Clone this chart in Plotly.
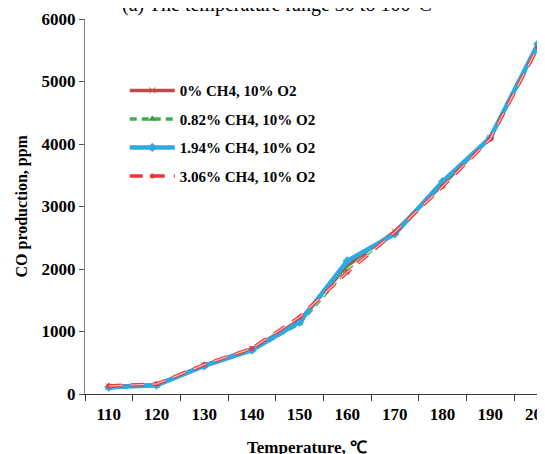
import plotly.graph_objects as go

temps = [110, 120, 130, 140, 150, 160, 170, 180, 190, 200]
co_0 = [120, 150, 460, 720, 1180, 2050, 2600, 3350, 4100, 5580]
co_082 = [100, 140, 450, 700, 1130, 2000, 2580, 3380, 4100, 5550]
co_194 = [110, 140, 450, 700, 1150, 2130, 2560, 3400, 4100, 5600]
co_306 = [130, 160, 470, 730, 1230, 1950, 2590, 3320, 4080, 5550]
names = ["0% CH4, 10% O2", "0.82% CH4, 10% O2", "1.94% CH4, 10% O2", "3.06% CH4, 10% O2"]
x_labels = ["110", "120", "130", "140", "150", "160", "170", "180", "190", "200"]
y_ticks = [0, 1000, 2000, 3000, 4000, 5000, 6000]

FONT = "Liberation Serif"
fig = go.Figure()
fig.add_trace(go.Scatter(x=temps, y=co_0, name=names[0], mode="lines+markers",
                         line=dict(color="#BE4B48", width=3.5),
                         marker=dict(symbol="x-thin", size=6, color="#BE4B48",
                                     line=dict(color="#BE4B48", width=1)),
                         legendgroup="a"))
fig.add_trace(go.Scatter(x=temps, y=co_082, name=names[1], mode="lines+markers",
                         line=dict(color="#3DAE52", width=3.5, dash="7px,5px"),
                         marker=dict(symbol="triangle-up", size=7, color="#2E9E3E"),
                         legendgroup="b"))
fig.add_trace(go.Scatter(x=temps, y=co_082, mode="lines", showlegend=False, hoverinfo="skip",
                         line=dict(color="#C8F0D0", width=1.2, dash="7px,5px"),
                         legendgroup="b"))
fig.add_trace(go.Scatter(x=temps, y=co_194, name=names[2], mode="lines+markers",
                         line=dict(color="#2DAAE1", width=4.5),
                         marker=dict(symbol="diamond", size=7, color="#2DAAE1"),
                         legendgroup="c"))
fig.add_trace(go.Scatter(x=temps, y=co_306, name=names[3], mode="lines+markers",
                         line=dict(color="#F0353A", width=3.5, dash="13px,9px"),
                         marker=dict(symbol="circle", size=5, color="#F0353A"),
                         legendgroup="d"))
fig.add_trace(go.Scatter(x=temps, y=co_306, mode="lines", showlegend=False, hoverinfo="skip",
                         line=dict(color="#FFC4C4", width=1.2, dash="13px,9px"),
                         legendgroup="d"))

# page has an 8px body margin; compensate so the plot lands where the reference has it
xr = [105, 105 + 468 / 4.767]
fig.update_layout(
    width=545, height=454,
    margin=dict(l=77, r=0, t=11, b=68),
    paper_bgcolor="white", plot_bgcolor="white",
    font=dict(family=FONT, size=17, color="black"),
    showlegend=True,
    legend=dict(x=0.085, y=0.853, xanchor="left", yanchor="top",
                bgcolor="rgba(0,0,0,0)", tracegroupgap=6, itemwidth=45,
                font=dict(family=FONT, size=15, color="black", weight="bold")),
    xaxis=dict(range=xr, tickvals=[105, 115, 125, 135, 145, 155, 165, 175, 185, 195],
               showticklabels=False, ticks="outside", ticklen=6, tickcolor="#333",
               showline=True, linecolor="#333", linewidth=1.2, showgrid=False, zeroline=False),
    xaxis2=dict(range=xr, overlaying="x", anchor="y", side="bottom",
                tickvals=temps, ticktext=x_labels, ticks="outside", ticklen=5,
                tickcolor="rgba(0,0,0,0)", showline=False, showgrid=False, zeroline=False,
                tickfont=dict(family=FONT, size=17, color="black", weight="bold")),
    yaxis=dict(range=[0, 6000], tickvals=y_ticks, ticks="outside", ticklen=5, tickcolor="#555",
               showline=True, linecolor="#808080", linewidth=1.2, showgrid=False, zeroline=False,
               tickfont=dict(family=FONT, size=17, color="black", weight="bold")),
)
# dummy trace to activate xaxis2
fig.add_trace(go.Scatter(x=[temps[0]], y=[None], xaxis="x2", showlegend=False, hoverinfo="skip"))

fig.add_annotation(text="CO production, ppm", xref="paper", yref="paper", x=0, y=0.5,
                   xanchor="center", yanchor="middle", xshift=-64, textangle=-90, showarrow=False,
                   font=dict(family=FONT, size=16, color="black", weight="bold"))
fig.add_annotation(text="Temperature, ℃", xref="paper", yref="paper", x=0.5, y=0,
                   xanchor="center", yanchor="top", xshift=-12, yshift=-42, showarrow=False,
                   font=dict(family=FONT, size=17, color="black", weight="bold"))
fig.add_annotation(text="(a) The temperature range 30 to 100°C", xref="paper", yref="paper",
                   x=0.5, y=1, xanchor="center", yanchor="bottom", xshift=-42, yshift=1,
                   showarrow=False, font=dict(family=FONT, size=20, color="black"))

fig.write_html("out.html")
